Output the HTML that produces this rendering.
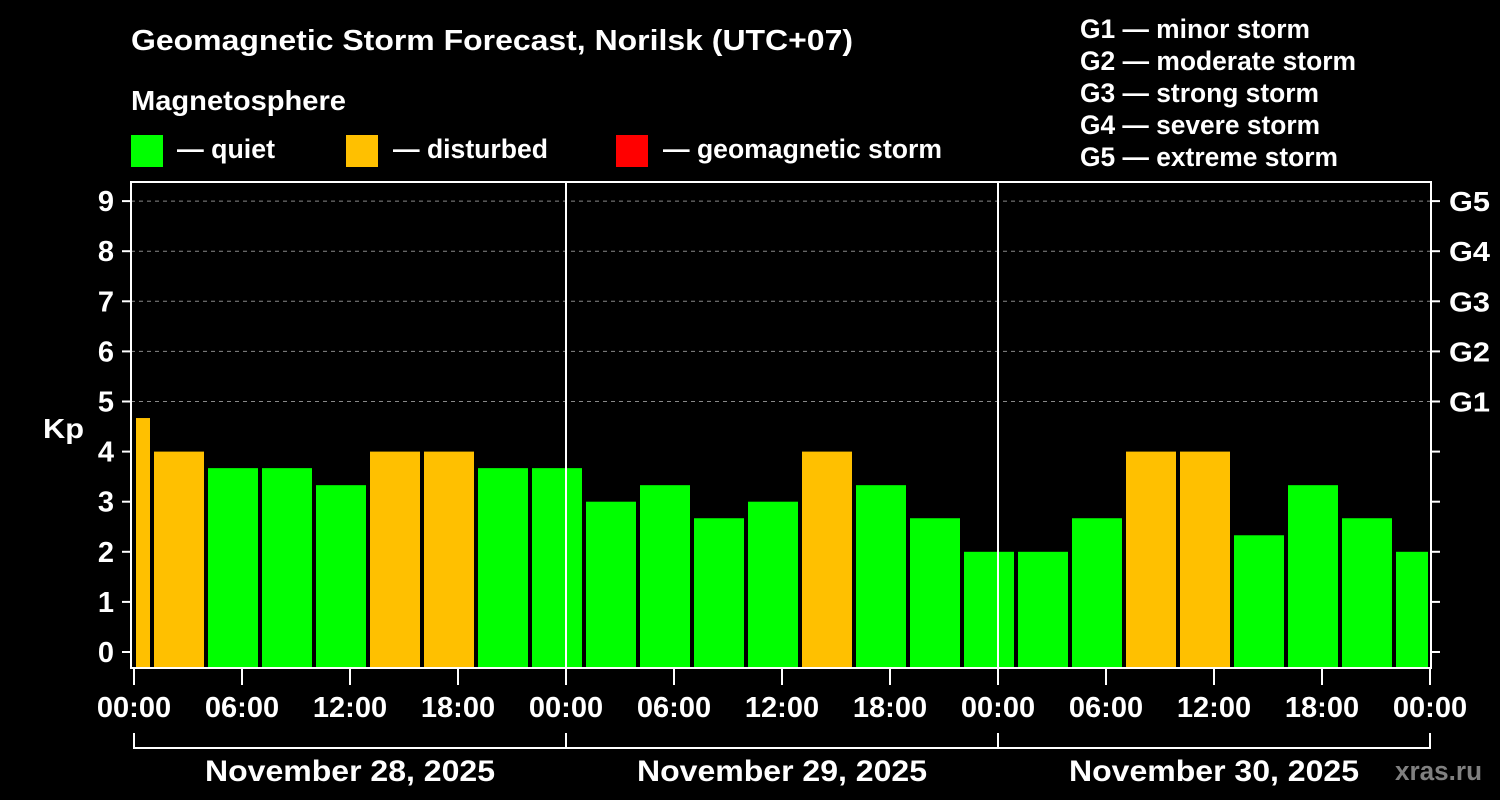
<!DOCTYPE html>
<html><head><meta charset="utf-8"><style>
html,body{margin:0;padding:0;background:#000;}
svg{display:block;font-family:"Liberation Sans",Arial,sans-serif;font-weight:bold;}
</style></head><body>
<svg id="chart" width="1500" height="800" viewBox="0 0 1500 800">
<rect width="1500" height="800" fill="#000"/>
<text x="131" y="50" fill="#fff" font-size="29" textLength="722" lengthAdjust="spacingAndGlyphs">Geomagnetic Storm Forecast, Norilsk (UTC+07)</text>
<text x="131" y="110" fill="#fff" font-size="28" textLength="215" lengthAdjust="spacingAndGlyphs">Magnetosphere</text>
<g><rect x="131" y="135" width="32" height="32" fill="#00ff00"/><text x="177" y="158" fill="#fff" font-size="27" textLength="98" lengthAdjust="spacingAndGlyphs">— quiet</text></g>
<g><rect x="346" y="135" width="32" height="32" fill="#ffc000"/><text x="393" y="158" fill="#fff" font-size="27" textLength="155" lengthAdjust="spacingAndGlyphs">— disturbed</text></g>
<g><rect x="616" y="135" width="32" height="32" fill="#ff0000"/><text x="663" y="158" fill="#fff" font-size="27" textLength="279" lengthAdjust="spacingAndGlyphs">— geomagnetic storm</text></g>
<g fill="#fff" font-size="27">
<text x="1080" y="38" textLength="230" lengthAdjust="spacingAndGlyphs">G1 — minor storm</text>
<text x="1080" y="70" textLength="276" lengthAdjust="spacingAndGlyphs">G2 — moderate storm</text>
<text x="1080" y="102" textLength="239" lengthAdjust="spacingAndGlyphs">G3 — strong storm</text>
<text x="1080" y="134" textLength="240" lengthAdjust="spacingAndGlyphs">G4 — severe storm</text>
<text x="1080" y="166" textLength="258" lengthAdjust="spacingAndGlyphs">G5 — extreme storm</text>
</g>
<text x="43" y="438" fill="#fff" font-size="28" textLength="41" lengthAdjust="spacingAndGlyphs">Kp</text>
<g id="grid"></g><g id="bars"></g><g id="axes"></g>
<text x="1395" y="780" fill="#808080" font-size="27" textLength="87" lengthAdjust="spacingAndGlyphs">xras.ru</text>
</svg>
<script>
const kpValues=[4.67,4,3.67,3.67,3.33,4,4,3.67,3.67,3,3.33,2.67,3,4,3.33,2.67,2,2,2.67,4,4,2.33,3.33,2.67,2];
const binStartHours=[-2,1,4,7,10,13,16,19,22,25,28,31,34,37,40,43,46,49,52,55,58,61,64,67,70];
const xTickLabels=["00:00","06:00","12:00","18:00","00:00","06:00","12:00","18:00","00:00","06:00","12:00","18:00","00:00"];
const dayLabels=["November 28, 2025","November 29, 2025","November 30, 2025"];
const yTicks=[0,1,2,3,4,5,6,7,8,9];
const gLevels=[5,6,7,8,9];
const gLabels=["G1","G2","G3","G4","G5"];
const NS="http://www.w3.org/2000/svg";
const x=h=>134+h*18;
const y=v=>652-v*50.1;
const X0=131,X1=1431,Y0=182,Y1=668;
function mk(parent,tag,attrs){const e=document.createElementNS(NS,tag);for(const k in attrs)e.setAttribute(k,attrs[k]);document.getElementById(parent).appendChild(e);return e;}
gLevels.forEach((v,i)=>{
 const l=mk('grid','line',{x1:X0,x2:X1,y1:y(v),y2:y(v),stroke:'#888','stroke-width':1,'stroke-dasharray':'4,4'});
 
 
 const t=mk('axes','text',{x:1449,y:y(v)+10,fill:'#fff','font-size':28,textLength:41,lengthAdjust:'spacingAndGlyphs'});t.textContent=gLabels[i];
 
 
});
kpValues.forEach((v,i)=>{
 let a=x(binStartHours[i])+2,b=x(binStartHours[i]+3)-2;
 a=Math.max(a,x(0)+2);b=Math.min(b,x(72)-2);
 const r=mk('bars','rect',{x:a,y:y(v),width:b-a,height:Y1-y(v),fill:v>=5?'#ff0000':(v>=4?'#ffc000':'#00ff00')});
 
 
});
const fr=mk('axes','rect',{x:X0,y:Y0,width:X1-X0,height:Y1-Y0,fill:'none',stroke:'#fff','stroke-width':2});


[24,48].forEach(h=>{const l=mk('axes','line',{x1:x(h),x2:x(h),y1:Y0,y2:Y1,stroke:'#fff','stroke-width':2});
 
 });
yTicks.forEach(v=>{
 mk('axes','line',{x1:122,x2:X0,y1:y(v),y2:y(v),stroke:'#fff','stroke-width':2});
 mk('axes','line',{x1:X1,x2:1440,y1:y(v),y2:y(v),stroke:'#fff','stroke-width':2});
 const t=mk('axes','text',{x:114,y:y(v)+10,fill:'#fff','font-size':29,'text-anchor':'end'});t.textContent=v;
 
 
});
xTickLabels.forEach((s,i)=>{
 const h=i*6;
 mk('axes','line',{x1:x(h),x2:x(h),y1:Y1,y2:685,stroke:'#fff','stroke-width':2});
 const t=mk('axes','text',{x:x(h),y:717,fill:'#fff','font-size':29,'text-anchor':'middle'});t.textContent=s;
 
 
});
mk('axes','line',{x1:x(0),x2:x(72),y1:748,y2:748,stroke:'#fff','stroke-width':2});
[0,24,48,72].forEach(h=>mk('axes','line',{x1:x(h),x2:x(h),y1:733,y2:749,stroke:'#fff','stroke-width':2}));
dayLabels.forEach((s,i)=>{
 const t=mk('axes','text',{x:x(i*24+12),y:781,fill:'#fff','font-size':30,'text-anchor':'middle',textLength:290,lengthAdjust:'spacingAndGlyphs'});t.textContent=s;
 
 
});
</script>
</body></html>
